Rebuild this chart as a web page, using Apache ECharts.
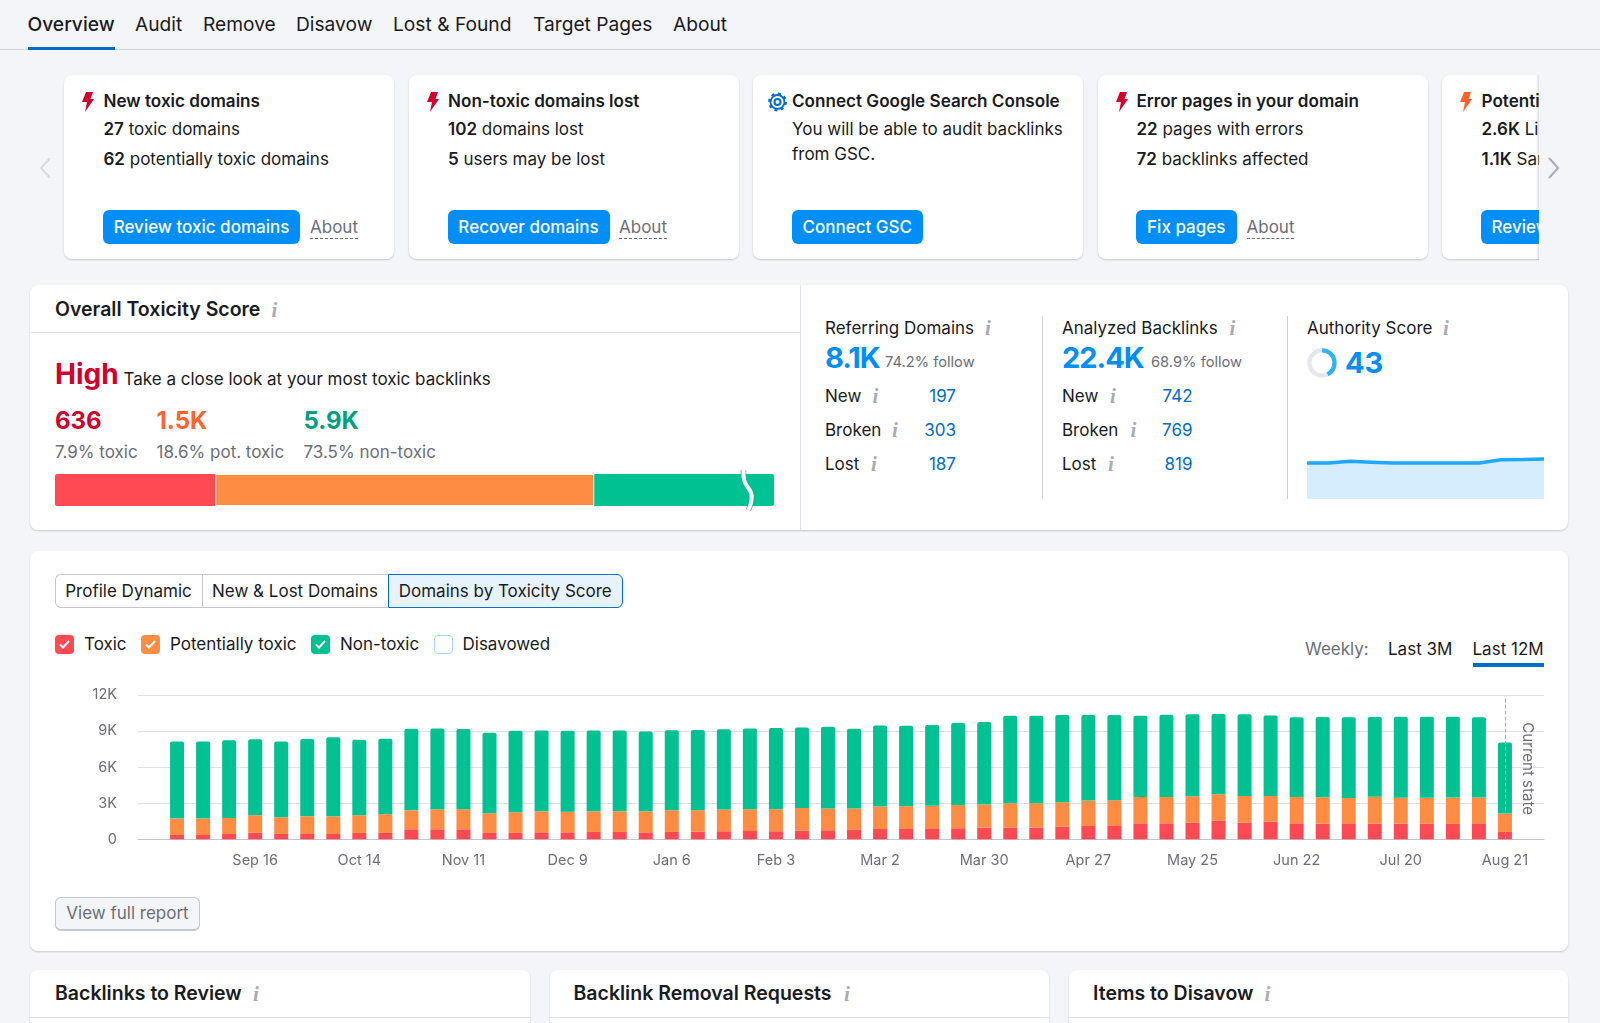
<!DOCTYPE html>
<html>
<head>
<meta charset="utf-8">
<title>Backlink Audit</title>
<script src="https://cdn.jsdelivr.net/npm/echarts@6/dist/echarts.min.js"></script>
<style>
html, body { margin: 0; padding: 0; width: 1600px; height: 1023px; overflow: hidden; background: #f4f5f9; font-family: Inter, sans-serif; color: #191b23; }
.box { position: absolute; box-sizing: border-box; background: #fff; border-radius: 8px; box-shadow: 0 1px 2px rgba(25,27,35,.2); }
.line { position: absolute; }
.t { position: absolute; white-space: nowrap; line-height: 1; transform: translateY(-50%); font-size: 17px; }
.b { font-weight: 600; }
.gray { color: #6c6e79; }
.info { font-family: "Liberation Serif", serif; font-style: italic; font-weight: 700; color: #a9abb6; font-size: 21px; }
.btn { position: absolute; box-sizing: border-box; height: 34px; border-radius: 6px; background: #008ff8; color: #fff; font-size: 17px; font-weight: 500; line-height: 34px; text-align: center; white-space: nowrap; overflow: hidden; }
.about { color: #6c6e79; border-bottom: 1px dashed #6c6e79; padding-bottom: 2px; transform: none; }
.tab { position: absolute; box-sizing: border-box; top: 574px; height: 34px; line-height: 32px; text-align: center; font-size: 17px; border: 1px solid #c4c7cf; background: #fff; white-space: nowrap; }
.check { position: absolute; box-sizing: border-box; width: 19px; height: 19px; border-radius: 4px; }
.chart { position: absolute; }
svg { position: absolute; overflow: visible; }
</style>
</head>
<body>
<div id="carousel" style="position:absolute;left:0;top:0;width:1600px;height:300px;clip-path:inset(0 61px 0 0);"></div>
<div id="page"></div>
<svg style="left:0;top:0;" width="1" height="1"><path d="M743.5 470 C743 480 745 484 749 489 C753 494 752 502 748.5 510" fill="none" stroke="#8a8c97" stroke-width="5.5"/></svg>
<div id="scoreBar" class="chart" style="left:55px;top:474px;width:719px;height:32px;"></div>
<svg style="left:0;top:0;" width="1" height="1"><path d="M743.5 470 C743 480 745 484 749 489 C753 494 752 502 748.5 510" fill="none" stroke="#fff" stroke-width="4"/></svg>
<div id="authorityRing" class="chart" style="left:1306.5px;top:348px;width:30px;height:30px;"></div>
<div id="authorityTrend" class="chart" style="left:1307px;top:447px;width:236.5px;height:52px;"></div>
<div id="main" class="chart" style="left:30px;top:680px;width:1538px;height:205px;"></div>
<script>
// 顶部导航
var navLabels = ['Overview', 'Audit', 'Remove', 'Disavow', 'Lost & Found', 'Target Pages', 'About'];
var navLefts = [27.5, 135, 203, 296, 393, 533, 673];

// 周度数据，每周一根柱子
var weekLabels = ['Aug 26', 'Sep 2', 'Sep 9', 'Sep 16', 'Sep 23', 'Sep 30', 'Oct 7', 'Oct 14', 'Oct 21', 'Oct 28',
    'Nov 4', 'Nov 11', 'Nov 18', 'Nov 25', 'Dec 2', 'Dec 9', 'Dec 16', 'Dec 23', 'Dec 30', 'Jan 6',
    'Jan 13', 'Jan 20', 'Jan 27', 'Feb 3', 'Feb 10', 'Feb 17', 'Feb 24', 'Mar 2', 'Mar 9', 'Mar 16',
    'Mar 23', 'Mar 30', 'Apr 6', 'Apr 13', 'Apr 20', 'Apr 27', 'May 4', 'May 11', 'May 18', 'May 25',
    'Jun 1', 'Jun 8', 'Jun 15', 'Jun 22', 'Jun 29', 'Jul 6', 'Jul 13', 'Jul 20', 'Jul 27', 'Aug 3',
    'Aug 10', 'Aug 21'];
var tickLabels = ['Sep 16', 'Oct 14', 'Nov 11', 'Dec 9', 'Jan 6', 'Feb 3', 'Mar 2', 'Mar 30', 'Apr 27', 'May 25', 'Jun 22', 'Jul 20', 'Aug 21'];
var toxic = [360, 360, 440, 560, 440, 440, 440, 530, 530, 830,
    830, 830, 530, 530, 580, 580, 610, 610, 580, 610,
    640, 670, 690, 670, 720, 750, 780, 860, 860, 860,
    920, 970, 970, 970, 1060, 1110, 1110, 1330, 1330, 1390,
    1560, 1390, 1470, 1330, 1310, 1330, 1310, 1310, 1310, 1280,
    1330, 610];
var potentiallyToxic = [1360, 1360, 1330, 1440, 1390, 1470, 1470, 1470, 1560, 1580,
    1670, 1670, 1640, 1720, 1750, 1720, 1720, 1720, 1750, 1810,
    1780, 1810, 1810, 1830, 1890, 1810, 1780, 1860, 1890, 1920,
    1940, 1920, 2030, 2030, 2030, 2110, 2140, 2190, 2190, 2190,
    2190, 2220, 2140, 2190, 2190, 2110, 2220, 2140, 2140, 2190,
    2140, 1530];
var nonToxic = [6420, 6420, 6470, 6310, 6310, 6440, 6580, 6280, 6280, 6780,
    6720, 6670, 6690, 6780, 6720, 6720, 6720, 6720, 6640, 6640,
    6670, 6670, 6720, 6750, 6690, 6810, 6640, 6750, 6690, 6720,
    6810, 6860, 7280, 7280, 7250, 7110, 7080, 6750, 6830, 6810,
    6670, 6780, 6690, 6640, 6670, 6720, 6640, 6750, 6750, 6720,
    6690, 5920];

// 总体毒性条（图中的显示宽度，单位 %）
var scoreBarSegments = [22.3, 52.7, 25];
// Authority Score
var authorityScore = 43;
var authorityTrendValues = [34.6, 34.6, 36.2, 35.4, 34.6, 34.6, 34.6, 34.6, 34.6, 37.8, 37.9, 38.4];

var page = document.getElementById('page');
var carousel = document.getElementById('carousel');

function addText(parent, text, x, y, cls, style) {
    var el = document.createElement('div');
    el.className = 't ' + (cls || '');
    el.innerHTML = text;
    el.style.left = x + 'px';
    el.style.top = y + 'px';
    if (style) el.style.cssText += style;
    parent.appendChild(el);
    return el;
}

function addBox(parent, cls, x, y, w, h, style) {
    var el = document.createElement('div');
    el.className = cls;
    el.style.cssText = 'left:' + x + 'px;top:' + y + 'px;width:' + w + 'px;height:' + h + 'px;' + (style || '');
    parent.appendChild(el);
    return el;
}

function addInfo(x, y) {
    addText(page, 'i', x, y, 'info');
}

function boltIcon(parent, x, color) {
    var ns = 'http://www.w3.org/2000/svg';
    var s = document.createElementNS(ns, 'svg');
    s.setAttribute('width', '12');
    s.setAttribute('height', '20');
    s.style.left = x + 'px';
    s.style.top = '92px';
    var p = document.createElementNS(ns, 'path');
    p.setAttribute('d', 'M4 0 H11 L8.5 7 H12 L3 20 L5 10 H0 Z');
    p.setAttribute('fill', color);
    s.appendChild(p);
    parent.appendChild(s);
}

// 导航
navLabels.forEach(function (label, i) {
    addText(page, label, navLefts[i], 25, '', 'font-size:19.2px;font-weight:' + (i === 0 ? 500 : 400) + ';');
});
addBox(page, 'line', 0, 49, 1600, 1, 'background:#d0d2da;');
addBox(page, 'line', 28, 47, 87, 3, 'background:#006dca;');

// 轮播卡片
function addCard(c) {
    addBox(carousel, 'box', c.x, 75, 330, 184);
    if (c.icon) boltIcon(carousel, c.iconX, c.icon);
    addText(carousel, c.title, c.textX, 101, 'b', 'font-size:17.1px;');
    addText(carousel, c.line1, c.textX, 129);
    addText(carousel, c.line2, c.textX, c.line2Y || 158.5);
    var btn = addBox(carousel, 'btn', c.textX - 0.5, 210, c.btnW + 0.5, 34, c.btnCss || '');
    btn.textContent = c.btn;
    if (c.about) addText(carousel, 'About', c.about, 219, 'about');
}
addCard({ x: 64, icon: '#d1002f', iconX: 82, textX: 103.5, title: 'New toxic domains', line1: '<span class="b">27</span> toxic domains', line2: '<span class="b">62</span> potentially toxic domains', btn: 'Review toxic domains', btnW: 196.5, about: 310 });
addCard({ x: 409, icon: '#d1002f', iconX: 427, textX: 448, title: 'Non-toxic domains lost', line1: '<span class="b">102</span> domains lost', line2: '<span class="b">5</span> users may be lost', btn: 'Recover domains', btnW: 161.5, about: 619 });
addCard({ x: 753, textX: 792, title: 'Connect Google Search Console', line1: 'You will be able to audit backlinks', line2: 'from GSC.', line2Y: 153.5, btn: 'Connect GSC', btnW: 131 });
addCard({ x: 1097.5, icon: '#d1002f', iconX: 1116, textX: 1136.5, title: 'Error pages in your domain', line1: '<span class="b">22</span> pages with errors', line2: '<span class="b">72</span> backlinks affected', btn: 'Fix pages', btnW: 100, about: 1246.5 });
addCard({ x: 1442, icon: '#ff642d', iconX: 1460, textX: 1481.5, title: 'Potentially toxic', line1: '<span class="b">2.6K</span> Links', line2: '<span class="b">1.1K</span> Sample', btn: 'Review', btnW: 130, btnCss: 'text-align:left;padding-left:10.5px;' });
addBox(carousel, 'line', 1536, 75, 3, 185, 'background:linear-gradient(to right,rgba(120,122,135,0),rgba(120,122,135,.25));');
carousel.insertAdjacentHTML('beforeend',
    '<svg style="left:768px;top:91.5px;" width="20" height="20"><circle cx="9.5" cy="10" r="3" fill="none" stroke="#006dca" stroke-width="2"/><circle cx="9.5" cy="10" r="7" fill="none" stroke="#006dca" stroke-width="1.8"/><circle cx="9.5" cy="10" r="8.4" fill="none" stroke="#006dca" stroke-width="2" stroke-dasharray="3 3.6"/></svg>');

var arrows = '<svg style="left:39px;top:157px;" width="12" height="22"><path d="M11 1 L2 11 L11 21" fill="none" stroke="#d9dbe2" stroke-width="2"/></svg>' +
    '<svg style="left:1548px;top:157px;" width="12" height="22"><path d="M1 1 L10 11 L1 21" fill="none" stroke="#a9abb6" stroke-width="2"/></svg>';
page.insertAdjacentHTML('beforeend', arrows);

// 总体毒性面板
addBox(page, 'box', 30, 285, 1538, 245);
addBox(page, 'line', 31, 332, 769, 1, 'background:#e0e1e9;');
addBox(page, 'line', 800, 285, 1, 245, 'background:#e0e1e9;');
addText(page, 'Overall Toxicity Score', 55, 310, 'b', 'font-size:19.5px;');
addInfo(271.5, 310);
addText(page, 'High', 55, 374, '', 'font-size:28px;font-weight:700;color:#d1002f;');
addText(page, 'Take a close look at your most toxic backlinks', 123.5, 379);
addText(page, '636', 55, 421, '', 'font-size:24px;font-weight:700;color:#d1002f;');
addText(page, '1.5K', 156.5, 421, '', 'font-size:24px;font-weight:700;color:#ff642d;');
addText(page, '5.9K', 303.5, 421, '', 'font-size:24px;font-weight:700;color:#009f81;');
addText(page, '7.9% toxic', 55, 452, 'gray');
addText(page, '18.6% pot. toxic', 156.5, 452, 'gray');
addText(page, '73.5% non-toxic', 303.5, 452, 'gray');

// 右侧指标
function addMetric(m) {
    addText(page, m.title, m.x, 328);
    addInfo(m.infoX, 328);
    addText(page, m.big, m.x, 356.5, '', 'font-size:29px;font-weight:700;color:#008ff8;letter-spacing:-1px;');
    addText(page, m.follow, m.followX, 361.5, 'gray', 'font-size:14.7px;');
    var names = ['New', 'Broken', 'Lost'];
    var ys = [396, 430, 464];
    names.forEach(function (name, i) {
        addText(page, name, m.x, ys[i]);
        addInfo(m.rowInfoX[i], ys[i]);
        addText(page, m.rows[i], m.valueRight - 60, ys[i], '', 'width:60px;text-align:right;color:#006dca;');
    });
}
addMetric({ x: 825, title: 'Referring Domains', infoX: 985, big: '8.1K', follow: '74.2% follow', followX: 885, rowInfoX: [872.5, 892, 871], rows: ['197', '303', '187'], valueRight: 956 });
addMetric({ x: 1062, title: 'Analyzed Backlinks', infoX: 1229.5, big: '22.4K', follow: '68.9% follow', followX: 1151, rowInfoX: [1110, 1130.5, 1108], rows: ['742', '769', '819'], valueRight: 1192.5 });
addBox(page, 'line', 1042, 316, 1, 183, 'background:#d0d2da;');
addBox(page, 'line', 1287, 316, 1, 183, 'background:#d0d2da;');
addText(page, 'Authority Score', 1307, 328);
addInfo(1443, 328);
addText(page, String(authorityScore), 1345, 361.5, '', 'font-size:29px;font-weight:700;color:#008ff8;');

// 图表面板
addBox(page, 'box', 30, 550.5, 1538, 400);
var tabs = [
    { text: 'Profile Dynamic', x: 55, w: 148, css: 'border-radius:6px 0 0 6px;border-right:none;padding-right:2px;' },
    { text: 'New &amp; Lost Domains', x: 202, w: 187, css: 'border-right:none;padding-right:2px;' },
    { text: 'Domains by Toxicity Score', x: 388, w: 234.5, css: 'border-radius:0 6px 6px 0;background:#e6f3ff;border-color:#006dca;' }
];
tabs.forEach(function (tab) {
    var el = addBox(page, 'tab', tab.x, 574, tab.w, 34, tab.css);
    el.innerHTML = tab.text;
});

var checks = [
    { label: 'Toxic', x: 55, tx: 84, color: '#ff4953' },
    { label: 'Potentially toxic', x: 141, tx: 170, color: '#ff8c43' },
    { label: 'Non-toxic', x: 311, tx: 340, color: '#00c192' },
    { label: 'Disavowed', x: 434, tx: 462.5 }
];
checks.forEach(function (c) {
    var el = addBox(page, 'check', c.x, 634.5, 19, 19, c.color ? 'background:' + c.color + ';' : 'background:#fff;border:1px solid #a8d8ff;');
    if (c.color) {
        el.innerHTML = '<svg style="left:4px;top:5px;" width="11" height="9"><path d="M1 4.5 L4 7.5 L10 1" fill="none" stroke="#fff" stroke-width="2"/></svg>';
    }
    addText(page, c.label, c.tx, 643.5);
});
addText(page, 'Weekly:', 1305, 649, 'gray');
addText(page, 'Last 3M', 1388, 649);
addText(page, 'Last 12M', 1472.5, 649);
addBox(page, 'line', 1472.5, 663, 71.5, 3.5, 'background:#006dca;');
var fullReport = addBox(page, 'btn', 55, 897, 145, 34, 'background:#f4f5f9;color:#6c6e79;border:1px solid #c4c7cf;border-bottom-width:2px;line-height:31px;font-weight:400;');
fullReport.textContent = 'View full report';

// 底部卡片
var bottomCards = [
    { title: 'Backlinks to Review', x: 30, w: 500, tx: 55, ix: 253 },
    { title: 'Backlink Removal Requests', x: 549.5, w: 499.5, tx: 573.5, ix: 844 },
    { title: 'Items to Disavow', x: 1069, w: 499, tx: 1093, ix: 1264.5 }
];
bottomCards.forEach(function (c) {
    addBox(page, 'box', c.x, 969.5, c.w, 80);
    addBox(page, 'line', c.x, 1017, c.w, 1, 'background:#e0e1e9;');
    addText(page, c.title, c.tx, 994, 'b', 'font-size:19.5px;');
    addInfo(c.ix, 994);
});

// 总体毒性条
function drawScoreBar() {
    var colors = ['#ff4953', '#ff8c43', '#00c192'];
    var chart = echarts.init(document.getElementById('scoreBar'));
    chart.setOption({
        animation: false,
        grid: { left: 0, right: 0, top: 0, bottom: 0 },
        xAxis: { type: 'value', min: 0, max: 100, show: false },
        yAxis: { type: 'category', data: ['score'], show: false },
        series: scoreBarSegments.map(function (v, i) {
            return {
                type: 'bar',
                stack: 'score',
                barWidth: '100%',
                silent: true,
                data: [v],
                itemStyle: {
                    color: colors[i],
                    borderColor: '#fff',
                    borderWidth: i === 1 ? 1 : 0,
                    borderRadius: i === 0 ? [2, 0, 0, 2] : (i === 2 ? [0, 2, 2, 0] : 0)
                }
            };
        })
    });
}

// Authority Score 圆环
function drawAuthorityRing() {
    var chart = echarts.init(document.getElementById('authorityRing'));
    chart.setOption({
        animation: false,
        series: [{
            type: 'pie',
            radius: ['70%', '98%'],
            center: ['50%', '50%'],
            silent: true,
            label: { show: false },
            labelLine: { show: false },
            startAngle: 90,
            data: [
                { value: authorityScore, itemStyle: { color: '#2bb3ff' } },
                { value: 100 - authorityScore, itemStyle: { color: '#e6e7ed' } }
            ]
        }]
    });
}

// Authority Score 趋势
function drawAuthorityTrend() {
    var chart = echarts.init(document.getElementById('authorityTrend'));
    chart.setOption({
        animation: false,
        grid: { left: 0, right: 0, top: 0, bottom: 0 },
        xAxis: { type: 'category', boundaryGap: false, show: false, data: authorityTrendValues.map(function (v, i) { return i; }) },
        yAxis: { type: 'value', min: 0, max: 50, show: false },
        series: [{
            type: 'line',
            silent: true,
            symbol: 'none',
            data: authorityTrendValues,
            lineStyle: { color: '#1fa8ff', width: 3.5 },
            areaStyle: { color: '#d6edfd', opacity: 1 }
        }]
    });
}

// echarts图表绘制
function myCharts1() {
    var myChart = echarts.init(document.getElementById('main'));
    // 两端各留一个空类目，柱子不贴边
    var categories = [''].concat(weekLabels, ['']);
    function pad(arr) {
        return [null].concat(arr, [null]);
    }
    var option = {
        animation: false,
        textStyle: { fontFamily: 'Inter' },
        grid: { left: 108, right: 24, top: 15, height: 144.3 },
        xAxis: {
            type: 'category',
            data: categories,
            axisTick: { show: false },
            axisLine: { lineStyle: { color: '#c4c7cf', width: 1 } },
            axisLabel: {
                color: '#6c6e79',
                fontSize: 14.5,
                margin: 14,
                interval: function (index, value) {
                    return tickLabels.indexOf(value) >= 0;
                }
            }
        },
        yAxis: {
            type: 'value',
            min: 0,
            max: 12000,
            interval: 3000,
            axisLine: { show: false },
            axisTick: { show: false },
            axisLabel: {
                color: '#6c6e79',
                fontSize: 14.5,
                margin: 21,
                formatter: function (v) {
                    return v === 0 ? '0' : v / 1000 + 'K';
                }
            },
            splitLine: { lineStyle: { color: '#e0e1e9', width: 1 } }
        },
        series: [
            { name: 'Toxic', type: 'bar', stack: 'domains', barWidth: 14, data: pad(toxic), itemStyle: { color: '#ff4953' } },
            { name: 'Potentially toxic', type: 'bar', stack: 'domains', barWidth: 14, data: pad(potentiallyToxic), itemStyle: { color: '#ff8c43' } },
            {
                name: 'Non-toxic',
                type: 'bar',
                stack: 'domains',
                barWidth: 14,
                data: pad(nonToxic),
                itemStyle: { color: '#00c192', borderRadius: [2, 2, 0, 0] },
                markLine: {
                    silent: true,
                    symbol: 'none',
                    lineStyle: { color: '#a9abb6', type: 'dashed', width: 1 },
                    label: {
                        show: true,
                        formatter: 'Current state',
                        position: 'middle',
                        rotate: -90,
                        offset: [4.6, -15.3],
                        color: '#6c6e79',
                        fontSize: 15,
                        fontFamily: 'Inter'
                    },
                    data: [[{ coord: ['Aug 21', 11700] }, { coord: ['Aug 21', 0] }]]
                }
            }
        ]
    };
    myChart.setOption(option);
}

drawScoreBar();
drawAuthorityRing();
drawAuthorityTrend();
myCharts1();
</script>
</body>
</html>
